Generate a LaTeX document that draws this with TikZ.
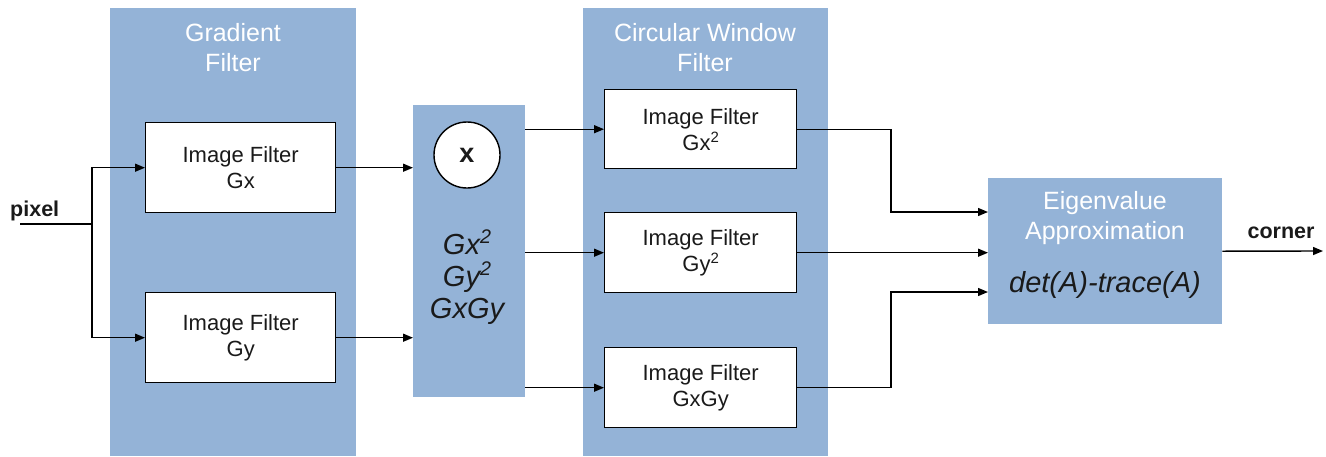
\documentclass[tikz,border=0pt]{standalone}
\usepackage{fontspec}
\setmainfont{Liberation Sans}
\usetikzlibrary{arrows.meta,calc}
\definecolor{panelblue}{RGB}{148,179,215}
\definecolor{ink}{RGB}{26,26,26}
\newcommand{\supr}[1]{\raisebox{0.36em}{\scalebox{0.68}{#1}}}
\tikzset{
  panel/.style={fill=panelblue, draw=none, anchor=north west, inner sep=0pt},
  filterbox/.style={draw=black, line width=1.4pt, fill=white, anchor=north west, inner sep=0pt},
  title/.style={text=white, font=\fontsize{25}{30}\selectfont, align=center, inner sep=0pt},
  boxtext/.style={text=ink, font=\fontsize{22}{26}\selectfont, align=center, inner sep=0pt},
  bigital/.style={text=ink, font=\fontsize{29}{32}\selectfont\itshape, align=center, inner sep=0pt},
  lbl/.style={text=ink, font=\fontsize{21.5}{25}\selectfont\bfseries, inner sep=0pt},
  wire/.style={draw=black, line width=1.4pt},
  arr/.style={wire, -{Triangle[length=10pt,width=8pt]}},
}
\begin{document}
\begin{tikzpicture}[x=1pt,y=-1pt]
\useasboundingbox (0,0) rectangle (1326,456);
% panels
\node[panel, minimum width=246pt, minimum height=448pt] (grad) at (110,8) {};
\node[panel, minimum width=112pt, minimum height=292pt] (mult) at (413,105) {};
\node[panel, minimum width=245pt, minimum height=448pt] (circ) at (583,8) {};
\node[panel, minimum width=234pt, minimum height=146pt] (eig) at (988,178) {};
% titles
\node[title] (gradt) at (233,48) {Gradient\\Filter};
\node[title] (circt) at (705,48) {Circular Window\\Filter};
\node[title] (eigt) at (1105,218) {Eigenvalue\\Approximation};
\node[bigital] (eigf) at (1105,285) {det(A)-trace(A)};
% gradient boxes
\node[filterbox, minimum width=190pt, minimum height=90pt] (gx) at (145,122) {};
\node[boxtext] (gxt) at (gx.center) {Image Filter\\Gx};
\node[filterbox, minimum width=190pt, minimum height=90pt] (gy) at (145,292) {};
\node[boxtext] (gyt) at (gy.center) {Image Filter\\Gy};
% multiplier
\node[circle, draw=black, line width=1.4pt, fill=white, minimum size=66pt, inner sep=0pt,
      font=\fontsize{27}{30}\selectfont\bfseries, text=ink] (times) at (467,155) {x};
\node[bigital, align=center] (prods) at (467,277) {Gx\supr{2}\\Gy\supr{2}\\GxGy};
% circular window boxes
\node[filterbox, minimum width=192pt, minimum height=79pt] (f1) at (604,89) {};
\node[boxtext] (f1t) at (f1.center) {Image Filter\\Gx\supr{2}};
\node[filterbox, minimum width=192pt, minimum height=80pt] (f2) at (604,212) {};
\node[boxtext] (f2t) at (f2.center) {Image Filter\\Gy\supr{2}};
\node[filterbox, minimum width=192pt, minimum height=80pt] (f3) at (604,347) {};
\node[boxtext] (f3t) at (f3.center) {Image Filter\\GxGy};
% labels
\node[lbl, anchor=west] (pixel) at (10,211) {pixel};
\node[lbl] (corner) at (1281,233) {corner};
% wires
\coordinate (pin) at (20,224);
\coordinate (split) at (92,224);
\draw[wire] (pin) -- (split);
\draw[arr] (split) |- (gx.west);
\draw[arr] (split) |- (gy.west);
\draw[arr] (gx.east) -- (gx.east -| mult.west);
\draw[arr] (gy.east) -- (gy.east -| mult.west);
\draw[arr] (f1.west -| mult.east) -- (f1.west);
\draw[arr] (f2.west -| mult.east) -- (f2.west);
\draw[arr] (f3.west -| mult.east) -- (f3.west);
\coordinate (b1) at (891,212);
\coordinate (b3) at (891,292);
\draw[arr] (f1.east) -| (b1) -- (b1 -| eig.west);
\draw[arr] (f2.east) -- (f2.east -| eig.west);
\draw[arr] (f3.east) -| (b3) -- (b3 -| eig.west);
\coordinate (out) at (1323,251);
\draw[arr] (eig.east) -- (out);
\end{tikzpicture}
\end{document}
